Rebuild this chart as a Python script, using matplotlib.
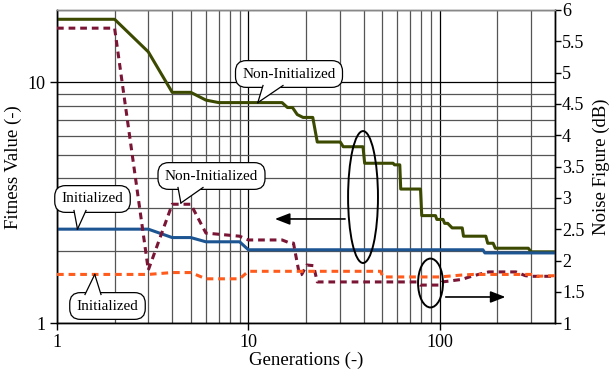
import numpy as np
import matplotlib
matplotlib.use("Agg")
import matplotlib.pyplot as plt
from matplotlib.patches import Ellipse, Polygon
from matplotlib.ticker import FixedLocator, FixedFormatter, NullFormatter, LogLocator

plt.rcParams['font.family'] = ['Liberation Serif', 'DejaVu Serif']

# ─── DATA ────────────────────────────────────────────────────────────────────
# fitness, non-initialized (left axis, solid green)
gen_fit_non = [1, 2, 3, 4, 5, 6, 7, 15, 16, 17, 18, 19.3, 21.7, 22.9, 30.2, 31.3,
               39.7, 40.5, 57, 58, 61.8, 62.5, 79.3, 80.5, 95, 96.5, 104, 106,
               110, 116, 131, 133, 174, 178, 190, 195, 290, 300, 400]
fit_non = [18.3, 18.3, 13.4, 9.1, 9.1, 8.45, 8.25, 8.25, 7.87, 7.87, 7.36, 7.16,
           7.16, 5.66, 5.66, 5.41, 5.41, 4.62, 4.62, 4.55, 4.55, 3.61, 3.61, 2.80,
           2.80, 2.70, 2.70, 2.60, 2.60, 2.49, 2.49, 2.30, 2.30, 2.15, 2.15, 2.05,
           2.05, 1.98, 1.98]

# fitness, initialized (left axis, solid blue)
gen_fit_ini = [1, 3, 4, 5, 6, 9, 10, 168, 172, 400]
fit_ini = [2.46, 2.46, 2.27, 2.27, 2.18, 2.18, 2.02, 2.02, 1.96, 1.96]

# noise figure, non-initialized (right axis, dashed maroon)
gen_nf_non = [1, 2, 3, 4, 5, 6, 9, 10, 15, 16.5, 17.2, 18.5, 19, 20.2, 21.9, 22.9,
              76, 79, 100, 103, 130, 150, 180, 250, 280, 300, 400]
nf_non = [5.71, 5.71, 1.85, 2.90, 2.90, 2.44, 2.39, 2.33, 2.33, 2.28, 2.28, 1.77,
          1.78, 1.93, 1.92, 1.66, 1.66, 1.61, 1.61, 1.66, 1.70, 1.76, 1.82, 1.82,
          1.76, 1.75, 1.75]

# noise figure, initialized (right axis, dashed orange)
gen_nf_ini = [1, 3, 4, 5, 6, 9, 10, 49, 50.5, 100, 130, 150, 300, 320, 400]
nf_ini = [1.78, 1.78, 1.81, 1.81, 1.71, 1.71, 1.83, 1.83, 1.74, 1.74, 1.77, 1.78,
          1.78, 1.75, 1.76]

gen_ticks = [1, 10, 100]
gen_labels = ['1', '10', '100']
fit_ticks = [1, 10]
fit_labels = ['1', '10']
nf_ticks = [1, 1.5, 2, 2.5, 3, 3.5, 4, 4.5, 5, 5.5, 6]
nf_labels = ['1', '1.5', '2', '2.5', '3', '3.5', '4', '4.5', '5', '5.5', '6']

GREEN = '#3b4a00'
BLUE = '#1d5593'
MAROON = '#7a1535'
ORANGE = '#ff5b1c'

W, H = 612, 370

# ─── FIGURE ──────────────────────────────────────────────────────────────────
fig = plt.figure(figsize=(W / 100, H / 100), dpi=100)
ax = fig.add_axes([0.0931, 0.1262, 0.8138, 0.8468])
ax.set_xscale('log')
ax.set_yscale('log')
ax.set_xlim(1, 400)
ax.set_ylim(1, 20)

ax.plot(gen_fit_non, fit_non, color=GREEN, lw=2.2, zorder=3)
ax.plot(gen_fit_ini, fit_ini, color=BLUE, lw=2.2, zorder=3)

ax2 = ax.twinx()
ax2.set_ylim(1, 6)
ax2.plot(gen_nf_non, nf_non, color=MAROON, lw=2.2, ls=(0, (2.2, 1.6)), zorder=3)
ax2.plot(gen_nf_ini, nf_ini, color=ORANGE, lw=2.2, ls=(0, (2.2, 1.6)), zorder=3)
ax2.set_yticks(nf_ticks)
ax2.set_yticklabels(nf_labels)
ax2.tick_params(axis='y', length=4, width=1, labelsize=13, pad=1)
ax2.set_ylabel('Noise Figure (dB)', fontsize=13.5, labelpad=6)

# grid + ticks of the main axes (set after twinx so the log scale keeps them)
ax.xaxis.set_major_locator(FixedLocator(gen_ticks))
ax.xaxis.set_major_formatter(FixedFormatter(gen_labels))
ax.xaxis.set_minor_locator(LogLocator(base=10, subs=np.arange(2, 10)))
ax.xaxis.set_minor_formatter(NullFormatter())
ax.yaxis.set_major_locator(FixedLocator(fit_ticks))
ax.yaxis.set_major_formatter(FixedFormatter(fit_labels))
ax.yaxis.set_minor_locator(LogLocator(base=10, subs=np.arange(2, 10)))
ax.yaxis.set_minor_formatter(NullFormatter())
ax.grid(which='major', color='black', lw=0.9)
ax.grid(which='minor', color='#555555', lw=0.9)
ax.set_axisbelow(True)
ax.tick_params(which='major', length=5, width=1, labelsize=13, direction='out')
ax.tick_params(axis='x', pad=3)
ax.tick_params(which='minor', length=0)
ax.set_xlabel('Generations (-)', fontsize=13.5, labelpad=0)
ax.set_ylabel('Fitness Value (-)', fontsize=13.5, labelpad=4)

for a in (ax, ax2):
    for s in a.spines.values():
        s.set_linewidth(1.0)
ax.spines['top'].set_color('#888888')
ax2.spines['top'].set_color('#888888')


# ─── CALLOUTS ────────────────────────────────────────────────────────────────
def px(x, y):
    # pixel (from top-left) -> figure fraction
    return (x / W, 1 - y / H)


def to_fig(a, x, y):
    d = a.transData.transform((x, y))
    return tuple(fig.transFigure.inverted().transform(d))


def callout(text, center, base, tip):
    cx, cy = px(*center)
    fig.text(cx, cy, text, ha='center', va='center', fontsize=11, zorder=6,
             bbox=dict(boxstyle='round,pad=0.45,rounding_size=0.7', fc='white',
                       ec='black', lw=0.9))
    b1, b2 = px(*base[0]), px(*base[1])
    fig.patches.append(Polygon([b1, tip, b2], closed=True, fc='white', ec='none',
                               transform=fig.transFigure, zorder=7))
    for b in (b1, b2):
        fig.lines.append(plt.Line2D([b[0], tip[0]], [b[1], tip[1]], color='black',
                                    lw=0.9, transform=fig.transFigure, zorder=8))


callout('Non-Initialized', (289, 74), ((263, 85.5), (283, 85.5)), to_fig(ax, 11.2, 8.25))
callout('Non-Initialized', (211.5, 176), ((178, 187.5), (203, 187.5)), to_fig(ax2, 4.44, 2.92))
callout('Initialized', (92.5, 199), ((74, 210.5), (86, 210.5)), to_fig(ax, 1.28, 2.46))
callout('Initialized', (107.5, 306), ((85, 294.5), (101, 294.5)), to_fig(ax2, 1.575, 1.78))

# ellipses + arrows pointing to the axis they belong to
ax2.add_patch(Ellipse((0.6145, 0.403), 0.060, 0.421, transform=ax2.transAxes,
                      fill=False, ec='black', lw=1.4, zorder=5))
ax2.add_patch(Ellipse((0.75, 0.1286), 0.050, 0.156, transform=ax2.transAxes,
                      fill=False, ec='black', lw=1.4, zorder=5))
arrow = dict(arrowstyle='-|>,head_length=0.9,head_width=0.35', color='black', lw=1.2)
ax2.annotate('', xy=(0.432, 0.333), xytext=(0.584, 0.333),
             xycoords='axes fraction', textcoords='axes fraction', arrowprops=arrow, zorder=5)
ax2.annotate('', xy=(0.906, 0.084), xytext=(0.775, 0.084),
             xycoords='axes fraction', textcoords='axes fraction', arrowprops=arrow, zorder=5)

fig.savefig('out.png', dpi=100)
